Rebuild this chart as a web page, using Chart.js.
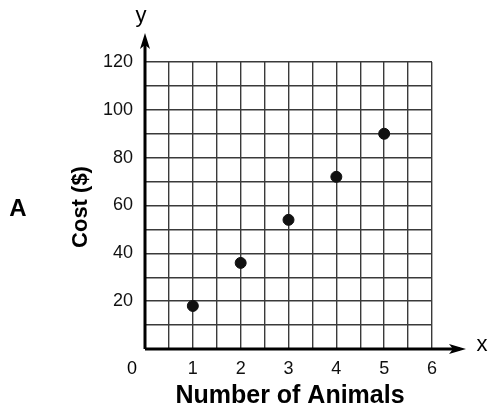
<!DOCTYPE html>
<html lang="en">
<head>
    <meta charset="UTF-8">
    <title>Cost vs Number of Animals</title>
    <script src="https://cdn.jsdelivr.net/npm/chart.js"></script>
    <style>
        body { margin: 0; background: #fff; }
        #wrap { width: 489px; height: 414px; }
    </style>
</head>
<body>
<div id="wrap">
    <canvas id="cost-chart" width="489" height="414"></canvas>
</div>
<script>
    // data
    const animals = [1, 2, 3, 4, 5];
    const costs = [18, 36, 54, 72, 90];
    const xTickLabels = [1, 2, 3, 4, 5, 6];
    const yTickLabels = [20, 40, 60, 80, 100, 120];

    const fontFamily = "'Liberation Sans', Arial, sans-serif";

    // axes with arrows + the extra labels (0, x, y, A, titles)
    const axisDecor = {
        id: 'axisDecor',
        afterDraw(chart) {
            const ctx = chart.ctx;
            const xs = chart.scales.x;
            const ys = chart.scales.y;
            const ox = xs.getPixelForValue(0);
            const oy = ys.getPixelForValue(0);
            const yTip = 33;
            const xTip = 466;

            ctx.save();
            ctx.strokeStyle = '#000';
            ctx.fillStyle = '#000';
            ctx.lineWidth = 3;
            ctx.beginPath();
            ctx.moveTo(ox, oy);
            ctx.lineTo(ox, yTip + 6);
            ctx.moveTo(ox, oy);
            ctx.lineTo(xTip - 6, oy);
            ctx.stroke();

            // arrow heads
            ctx.beginPath();
            ctx.moveTo(ox, yTip);
            ctx.lineTo(ox - 5, yTip + 16);
            ctx.lineTo(ox, yTip + 12);
            ctx.lineTo(ox + 5, yTip + 16);
            ctx.closePath();
            ctx.fill();
            ctx.beginPath();
            ctx.moveTo(xTip, oy);
            ctx.lineTo(xTip - 17, oy - 5);
            ctx.lineTo(xTip - 13, oy);
            ctx.lineTo(xTip - 17, oy + 5);
            ctx.closePath();
            ctx.fill();

            ctx.textAlign = 'center';
            ctx.textBaseline = 'middle';
            ctx.font = '22px ' + fontFamily;
            ctx.fillText('y', 141, 16);
            ctx.fillText('x', 482, 345);
            ctx.font = '18px ' + fontFamily;
            ctx.fillText('0', 132, 369);

            ctx.font = 'bold 24px ' + fontFamily;
            ctx.fillText('A', 18, 209);

            ctx.font = 'bold 25px ' + fontFamily;
            ctx.fillText('Number of Animals', 290, 396);

            ctx.save();
            ctx.translate(81, 207);
            ctx.rotate(-Math.PI / 2);
            ctx.font = 'bold 22px ' + fontFamily;
            ctx.fillText('Cost ($)', 0, 0);
            ctx.restore();

            ctx.restore();
        }
    };

    const ctx = document.getElementById('cost-chart').getContext('2d');
    const costChart = new Chart(ctx, {
        type: 'scatter',
        data: {
            datasets: [{
                label: 'Cost ($)',
                data: animals.map((a, i) => ({ x: a, y: costs[i] })),
                backgroundColor: '#111',
                borderColor: '#111',
                pointRadius: 5.5,
                pointHoverRadius: 5.5
            }]
        },
        options: {
            responsive: false,
            animation: false,
            layout: {
                padding: { left: 0, top: 62, right: 57, bottom: 0 }
            },
            plugins: {
                legend: { display: false },
                tooltip: { enabled: false }
            },
            scales: {
                x: {
                    type: 'linear',
                    min: 0,
                    max: 6,
                    afterFit: (scale) => { scale.height = 65; },
                    afterBuildTicks: (scale) => {
                        const t = [];
                        for (let v = 0; v <= 6; v += 0.5) t.push({ value: v });
                        scale.ticks = t;
                    },
                    ticks: {
                        autoSkip: false,
                        maxRotation: 0,
                        padding: 9,
                        color: '#111',
                        font: { family: fontFamily, size: 18 },
                        callback: (v) => xTickLabels.includes(v) ? String(v) : ''
                    },
                    grid: {
                        color: '#3a3a3a',
                        lineWidth: 1.4,
                        drawTicks: false
                    },
                    border: { display: false }
                },
                y: {
                    type: 'linear',
                    min: 0,
                    max: 120,
                    afterFit: (scale) => { scale.width = 145; },
                    afterBuildTicks: (scale) => {
                        const t = [];
                        for (let v = 0; v <= 120; v += 10) t.push({ value: v });
                        scale.ticks = t;
                    },
                    ticks: {
                        autoSkip: false,
                        padding: 12,
                        color: '#111',
                        font: { family: fontFamily, size: 18 },
                        callback: (v) => yTickLabels.includes(v) ? String(v) : ''
                    },
                    grid: {
                        color: '#3a3a3a',
                        lineWidth: 1.4,
                        drawTicks: false
                    },
                    border: { display: false }
                }
            }
        },
        plugins: [axisDecor]
    });
</script>
</body>
</html>
